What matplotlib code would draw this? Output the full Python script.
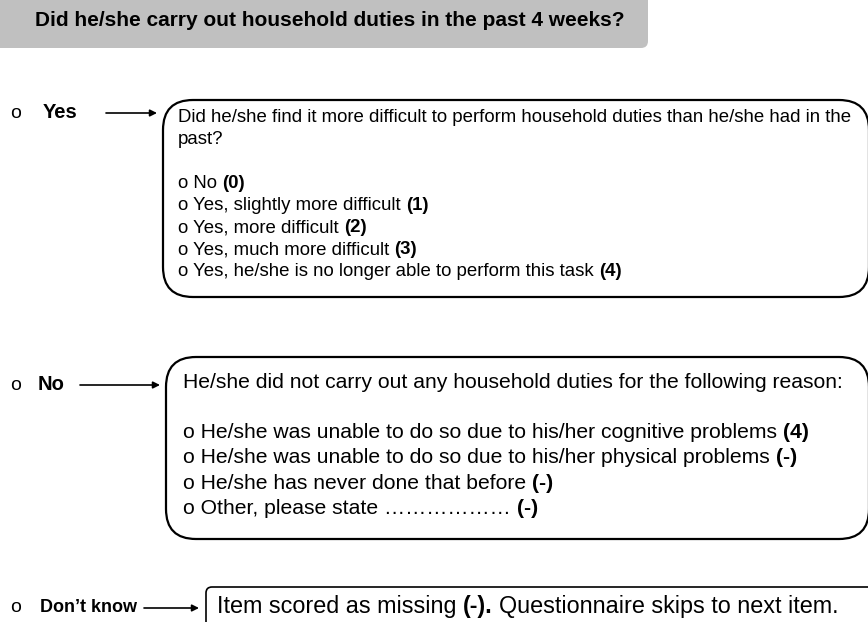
import matplotlib
matplotlib.use("Agg")
import matplotlib.pyplot as plt
from matplotlib.patches import FancyBboxPatch

# texts of the flow chart
question = "Did he/she carry out household duties in the past 4 weeks?"
answers = ["Yes", "No", "Don\u2019t know"]

# (regular part, bold part) per line
yes_lines = [
    ("Did he/she find it more difficult to perform household duties than he/she had in the", ""),
    ("past?", ""),
    ("", ""),
    ("o No", "(0)"),
    ("o Yes, slightly more difficult", "(1)"),
    ("o Yes, more difficult", "(2)"),
    ("o Yes, much more difficult", "(3)"),
    ("o Yes, he/she is no longer able to perform this task", "(4)"),
]
no_lines = [
    ("He/she did not carry out any household duties for the following reason:", ""),
    ("", ""),
    ("o He/she was unable to do so due to his/her cognitive problems", "(4)"),
    ("o He/she was unable to do so due to his/her physical problems", "(-)"),
    ("o He/she has never done that before", "(-)"),
    ("o Other, please state \u2026\u2026\u2026\u2026\u2026\u2026", "(-)"),
]
dk_runs = [("Item scored as missing", False), ("(-).", True),
           ("Questionnaire skips to next item.", False)]

FONT = "Liberation Sans"

W, H = 868, 622
fig = plt.figure(figsize=(W / 100, H / 100), dpi=100)
ax = fig.add_axes([0, 0, 1, 1])
ax.set_xlim(0, W)
ax.set_ylim(H, 0)
ax.axis("off")
fig.canvas.draw()
renderer = fig.canvas.get_renderer()


def draw_runs(x, y, runs, size, family=FONT):
    """draw text pieces one after another, some bold"""
    space = 0.278 * size * 100 / 72
    for txt, bold in runs:
        if not txt:
            continue
        t = ax.text(x, y, txt, fontsize=size, family=family, va="center", ha="left",
                    fontweight="bold" if bold else "normal")
        bb = t.get_window_extent(renderer)
        x = ax.transData.inverted().transform((bb.x1, bb.y0))[0] + space


def box(x, y, w, h, r, **kw):
    p = FancyBboxPatch((x, y), w, h, boxstyle=f"round,pad=0,rounding_size={r}",
                       mutation_aspect=1, **kw)
    ax.add_patch(p)


def arrow(x0, x1, y):
    ax.annotate("", xy=(x1, y), xytext=(x0, y),
                arrowprops=dict(arrowstyle="-|>", mutation_scale=10, lw=1.2,
                                color="black", shrinkA=0, shrinkB=0))


# header
box(-10, -20, 658, 68, 7, facecolor="#c0c0c0", edgecolor="none")
ax.text(330, 21, question, fontsize=15, fontweight="bold", family=FONT,
        ha="center", va="center")

# answer labels
label_y = [113, 385, 608]
label_x = [43, 38, 40]
label_size = [14.5, 14.5, 13]
for lab, yy, xx, sz in zip(answers, label_y, label_x, label_size):
    ax.text(10, yy, "o", fontsize=14, family=FONT, va="center", ha="left")
    ax.text(xx, yy, lab, fontsize=sz, fontweight="bold",
            family=FONT, va="center", ha="left")

arrow(106, 157, 113)
arrow(80, 160, 385)
arrow(144, 199, 608)

# Yes box
box(163, 100, 706, 197, 30, facecolor="white", edgecolor="black", lw=1.6)
for k, (reg, bold) in enumerate(yes_lines):
    draw_runs(178, 118 + 22 * k, [(reg, False), (bold, True)], 13.4)

# No box
box(166, 357, 703, 182, 30, facecolor="white", edgecolor="black", lw=1.6)
for k, (reg, bold) in enumerate(no_lines):
    draw_runs(183, 382 + 25.3 * k, [(reg, False), (bold, True)], 15.2)

# Don't know box
box(206, 587, 700, 60, 6, facecolor="white", edgecolor="black", lw=1.2)
draw_runs(217, 607, dk_runs, 16.8)

fig.savefig("out.png", dpi=100)
